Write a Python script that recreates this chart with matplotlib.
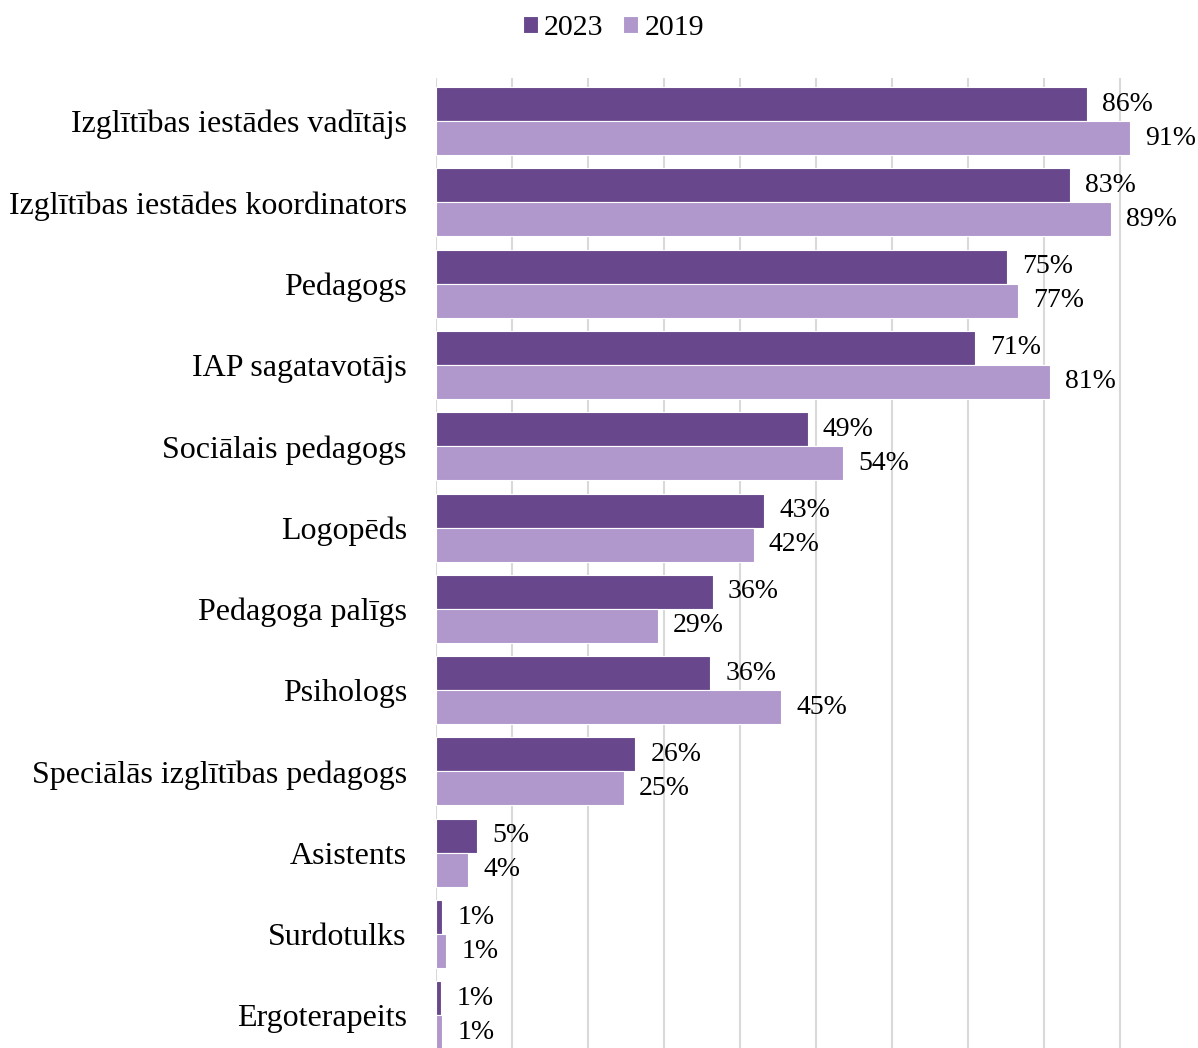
import matplotlib
matplotlib.use("Agg")
import matplotlib.pyplot as plt
import numpy as np

plt.rcParams['font.family'] = ['Liberation Serif', 'DejaVu Serif']

categories = [
    "Izglītības iestādes vadītājs",
    "Izglītības iestādes koordinators",
    "Pedagogs",
    "IAP sagatavotājs",
    "Sociālais pedagogs",
    "Logopēds",
    "Pedagoga palīgs",
    "Psihologs",
    "Speciālās izglītības pedagogs",
    "Asistents",
    "Surdotulks",
    "Ergoterapeits",
]
values_2023 = [85.6, 83.4, 75.1, 70.9, 48.9, 43.2, 36.4, 36.1, 26.2, 5.4, 0.8, 0.7]
values_2019 = [91.3, 88.8, 76.6, 80.8, 53.6, 41.8, 29.2, 45.4, 24.7, 4.2, 1.3, 0.8]
series_names = ["2023", "2019"]
colors = ["#68478C", "#B097CC"]

W, H = 1198, 1048
fig = plt.figure(figsize=(W / 100, H / 100), dpi=100)
ax = fig.add_axes([436 / W, -8 / H, 760 / W, (1056 - 78) / H])

y = np.arange(len(categories))
bh = 0.418
b1 = ax.barh(y - bh / 2, values_2023, height=bh, color=colors[0], edgecolor="white",
             linewidth=0.8, label=series_names[0], zorder=3)
b2 = ax.barh(y + bh / 2, values_2019, height=bh, color=colors[1], edgecolor="white",
             linewidth=0.8, label=series_names[1], zorder=3)

for bars, vals in ((b1, values_2023), (b2, values_2019)):
    ax.bar_label(bars, labels=[f"{round(v):d}%" for v in vals], padding=11,
                 fontsize=20, color="black")

ax.set_xlim(0, 100)
ax.set_ylim(len(categories) - 0.5, -0.53)
ax.set_yticks(y)
ax.set_yticklabels(categories, fontsize=23)
ax.tick_params(axis="y", length=0, pad=21)
ax.set_xticks(np.arange(0, 100, 10))
ax.tick_params(axis="x", length=0, labelbottom=False)
ax.grid(axis="x", color="#D9D9D9", linewidth=1.5, zorder=0)
for s in ax.spines.values():
    s.set_visible(False)

fig.legend(handles=[b1, b2], labels=series_names, loc="upper center",
           bbox_to_anchor=(0.512, 1.011), ncol=2, frameon=False, fontsize=21.5,
           handlelength=0.5, handleheight=0.5, handletextpad=0.22, columnspacing=0.65)

fig.savefig("out.png", dpi=100)
